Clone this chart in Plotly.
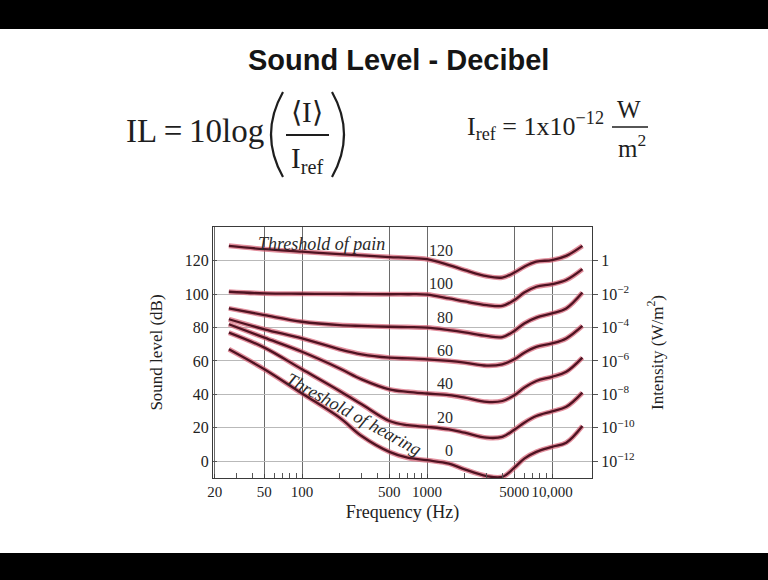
import math
import plotly.graph_objects as go

# ---------------- data ----------------
freq_hz = [26, 50, 100, 200, 300, 500, 700, 1000, 1500, 2000, 3000, 4000,
           5000, 6000, 7500, 10000, 13000, 17500]

db_120 = [129, 127, 125.5, 124, 123.3, 122.3, 121.8, 121, 117.5, 114.5, 110.8, 110,
          113, 116.5, 119.5, 120.5, 123, 129]
db_100 = [101.5, 100.5, 100.3, 100.2, 100.1, 100, 100, 99.8, 97.5, 95.7, 93.5, 93,
          96.5, 101, 104.5, 106, 108.5, 115]
db_80 = [91.5, 87.5, 83.5, 81.5, 81, 80.5, 80.3, 80, 78.5, 77.2, 75, 74.3,
         78, 82.5, 86, 88.5, 91.5, 101]
db_60 = [85, 79, 73.5, 67, 64, 62, 61.5, 61, 60, 59, 57.2, 58,
         61, 65, 68.5, 70.5, 73.5, 81]
db_40 = [82, 74, 65.5, 55.5, 49, 43, 41.5, 40.5, 39.5, 38, 35.5, 36,
         39.5, 44, 48, 50.5, 53.5, 62]
db_20 = [77, 68, 55, 42, 34, 24, 21.5, 20.5, 19, 17, 14, 14.5,
         18.8, 23, 27, 29.8, 32.5, 41]
db_0 = [67, 55, 40.5, 26, 15, 5.5, 2, 0.5, -1.5, -5, -9, -9.5,
        -4, 1.5, 5.5, 8.5, 11, 21]

curve_levels = [120, 100, 80, 60, 40, 20, 0]
curve_values = [db_120, db_100, db_80, db_60, db_40, db_20, db_0]

x_tick_vals = [20, 50, 100, 500, 1000, 5000, 10000]
x_tick_text = ["20", "50", "100", "500", "1000", "5000", "10,000"]
x_minor_vals = [30, 40, 60, 70, 80, 90, 200, 300, 400, 600, 700, 800, 900,
                2000, 3000, 4000, 6000, 7000, 8000, 9000]
y_tick_vals = [0, 20, 40, 60, 80, 100, 120]
intensity_text = ["10<sup>\u221212</sup>", "10<sup>\u221210</sup>", "10<sup>\u22128</sup>",
                  "10<sup>\u22126</sup>", "10<sup>\u22124</sup>", "10<sup>\u22122</sup>", "1"]

# ---------------- layout helpers (pixel -> paper) ----------------
L, T, W, H = 213, 227, 379, 251
FIG_W, FIG_H = 768, 580


def px(x):
    return (x - L) / W


def py(y):
    return (T + H - y) / H


SERIF = "Liberation Serif, Times New Roman, serif"
SANS = "Liberation Sans, Arial, sans-serif"
INK = "#1e1e1e"

fig = go.Figure()

for lvl, vals in zip(curve_levels, curve_values):
    fig.add_trace(go.Scatter(x=freq_hz, y=vals, mode="lines",
                             line=dict(color="rgba(214,96,116,0.7)", width=5,
                                       shape="spline", smoothing=1.0),
                             hoverinfo="skip", showlegend=False))
    fig.add_trace(go.Scatter(x=freq_hz, y=vals, mode="lines", name=f"{lvl} dB",
                             line=dict(color="#4f1322", width=2.3,
                                       shape="spline", smoothing=1.0),
                             showlegend=False))

# invisible trace to carry the right-hand intensity axis
fig.add_trace(go.Scatter(x=freq_hz, y=db_120, mode="lines", yaxis="y2",
                         line=dict(width=0), opacity=0, hoverinfo="skip",
                         showlegend=False))

annotations = []
# curve level labels (right-aligned just right of 1000 Hz)
for lvl in curve_levels:
    annotations.append(dict(x=math.log10(1675), y=lvl + 6.3, xref="x", yref="y",
                            text=str(lvl), showarrow=False, xanchor="right",
                            yanchor="middle",
                            font=dict(family=SERIF, size=16, color="#2a2a2a")))

annotations.append(dict(x=math.log10(142), y=130.3, xref="x", yref="y",
                        text="<i>Threshold of pain</i>", showarrow=False,
                        xanchor="center", yanchor="middle",
                        font=dict(family=SERIF, size=18, color="#2a2a2a")))
annotations.append(dict(x=math.log10(258), y=28, xref="x", yref="y",
                        text="<i>Threshold of hearing</i>", showarrow=False,
                        textangle=29, xanchor="center", yanchor="middle",
                        font=dict(family=SERIF, size=18, color="#2a2a2a")))

# slide title and formulas
annotations += [
    dict(x=px(398), y=py(60), xref="paper", yref="paper", showarrow=False,
         text="<b>Sound Level - Decibel</b>", xanchor="center", yanchor="middle",
         font=dict(family=SANS, size=29, color="#151515")),
    dict(x=px(124), y=py(131), xref="paper", yref="paper", showarrow=False,
         text="IL\u2009=\u200910log", xanchor="left", yanchor="middle",
         font=dict(family=SERIF, size=33, color=INK)),
    dict(x=px(307), y=py(112), xref="paper", yref="paper", showarrow=False,
         text="\u27e8I\u27e9", xanchor="center", yanchor="middle",
         font=dict(family=SERIF, size=29, color=INK)),
    dict(x=px(307), y=py(160), xref="paper", yref="paper", showarrow=False,
         text="I<sub>ref</sub>", xanchor="center", yanchor="middle",
         font=dict(family=SERIF, size=29, color=INK)),
    dict(x=px(465), y=py(126), xref="paper", yref="paper", showarrow=False,
         text="I<sub>ref</sub> = 1x10<sup>\u221212</sup>", xanchor="left",
         yanchor="middle", font=dict(family=SERIF, size=26, color=INK)),
    dict(x=px(629), y=py(109), xref="paper", yref="paper", showarrow=False,
         text="W", xanchor="center", yanchor="middle",
         font=dict(family=SERIF, size=25, color=INK)),
    dict(x=px(632), y=py(146), xref="paper", yref="paper", showarrow=False,
         text="m<sup>2</sup>", xanchor="center", yanchor="middle",
         font=dict(family=SERIF, size=25, color=INK)),
]

shapes = [
    # black slide bars
    dict(type="rect", xref="paper", yref="paper", x0=px(-5), x1=px(FIG_W + 5),
         y0=py(-5), y1=py(29), fillcolor="black", line=dict(width=0), layer="above"),
    dict(type="rect", xref="paper", yref="paper", x0=px(-5), x1=px(FIG_W + 5),
         y0=py(553), y1=py(FIG_H + 5), fillcolor="black", line=dict(width=0), layer="above"),
    # fraction bars
    dict(type="line", xref="paper", yref="paper", x0=px(286), x1=px(329),
         y0=py(135), y1=py(135), line=dict(color=INK, width=2)),
    dict(type="line", xref="paper", yref="paper", x0=px(612), x1=px(648),
         y0=py(127), y1=py(127), line=dict(color=INK, width=1.6)),
    # big parentheses
    dict(type="path", xref="paper", yref="paper",
         path=f"M {px(283)},{py(92)} Q {px(259)},{py(134.5)} {px(283)},{py(177)}",
         line=dict(color=INK, width=2.2)),
    dict(type="path", xref="paper", yref="paper",
         path=f"M {px(332)},{py(92)} Q {px(356)},{py(134.5)} {px(332)},{py(177)}",
         line=dict(color=INK, width=2.2)),
]

fig.update_layout(
    width=FIG_W, height=FIG_H, autosize=False,
    margin=dict(l=L, r=FIG_W - L - W, t=T, b=FIG_H - T - H, pad=0),
    paper_bgcolor="white", plot_bgcolor="white", showlegend=False,
    xaxis=dict(type="log", range=[1.288, 4.32], tickmode="array",
               tickvals=x_tick_vals, ticktext=x_tick_text, tickangle=0,
               ticks="inside", ticklen=4, tickcolor="#444",
               minor=dict(tickmode="array", tickvals=x_minor_vals, ticks="inside",
                          ticklen=5, tickcolor="#555", showgrid=False),
               showgrid=True, gridcolor="#6a6a6a", gridwidth=1,
               showline=True, linecolor="#3a3a3a", linewidth=1.3, mirror=True,
               tickfont=dict(family=SERIF, size=15, color="#222"),
               title=dict(text="Frequency (Hz)", standoff=6,
                          font=dict(family=SERIF, size=18, color="#222"))),
    yaxis=dict(range=[-10.15, 140.3], tickmode="array", tickvals=y_tick_vals,
               ticks="inside", ticklen=4, tickcolor="#555",
               showgrid=True, gridcolor="#b9b9b9", gridwidth=1, zeroline=False,
               showline=True, linecolor="#3a3a3a", linewidth=1.3, mirror=True,
               tickfont=dict(family=SERIF, size=16, color="#222"),
               title=dict(text="Sound level (dB)", standoff=17,
                          font=dict(family=SERIF, size=17, color="#222"))),
    yaxis2=dict(range=[-10.15, 140.3], overlaying="y", side="right",
                tickmode="array", tickvals=y_tick_vals, ticktext=intensity_text,
                ticks="outside", ticklen=5, tickcolor="#555",
                showgrid=False, zeroline=False, showline=False,
                tickfont=dict(family=SERIF, size=16, color="#222"),
                title=dict(text="Intensity (W/m<sup>2</sup>)", standoff=16,
                           font=dict(family=SERIF, size=17, color="#222"))),
    annotations=annotations,
    shapes=shapes,
)

fig.write_html("out.html", config={"displayModeBar": False},
               post_script="document.body.style.margin='0';")
